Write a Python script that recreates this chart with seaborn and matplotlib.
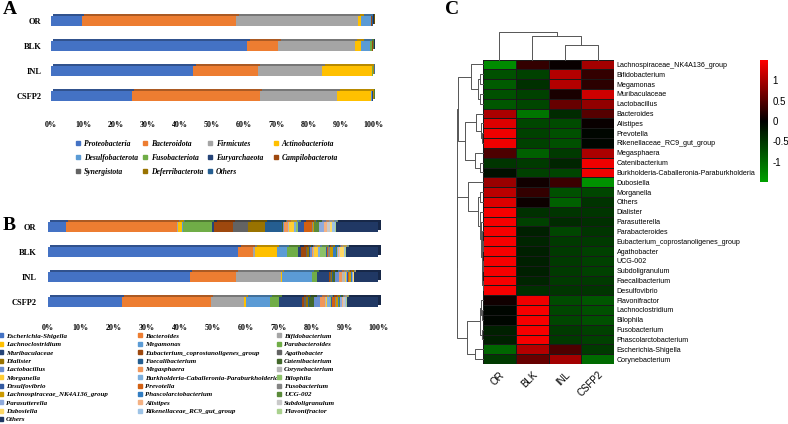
import numpy as np
import pandas as pd
import matplotlib
matplotlib.use("Agg")
import matplotlib.pyplot as plt
import matplotlib.colors as mcolors
import matplotlib.transforms as mtransforms
from matplotlib.lines import Line2D
from matplotlib.patches import Rectangle
import seaborn as sns

# ---------------- data ----------------
groups = ["OR", "BLK", "INL", "CSFP2"]

# A: phylum level relative abundance (%)
phyla = ["Proteobacteria", "Bacteroidota", "Firmicutes", "Actinobacteriota",
         "Desulfobacterota", "Fusobacteriota", "Euryarchaeota", "Campilobacterota",
         "Synergistota", "Deferribacterota", "Others"]
phyla_colors = ["#4472C4", "#ED7D31", "#A5A5A5", "#FFC000", "#5B9BD5", "#70AD47",
                "#264478", "#9E480E", "#636363", "#997300", "#255E91"]
phy_OR = [9.5, 48.1, 37.7, 1.1, 2.9, 0.1, 0.1, 0.1, 0.1, 0.1, 0.2]
phy_BLK = [61.0, 9.6, 23.8, 2.0, 2.6, 0.7, 0.1, 0.05, 0.05, 0.05, 0.05]
phy_INL = [44.2, 20.1, 20.0, 15.4, 0.1, 0.05, 0.05, 0.02, 0.02, 0.02, 0.04]
phy_CSFP2 = [25.1, 39.7, 24.1, 10.6, 0.2, 0.1, 0.05, 0.05, 0.03, 0.02, 0.05]

# B: genus level relative abundance (%)
genera = ["Escherichia-Shigella", "Bacteroides", "Bifidobacterium", "Lachnoclostridium",
          "Megamonas", "Parabacteroides", "Muribaculaceae",
          "Eubacterium_coprostanoligenes_group", "Agathobacter", "Dialister",
          "Faecalibacterium", "Catenibacterium", "Lactobacillus", "Megasphaera",
          "Corynebacterium", "Morganella", "Burkholderia-Caballeronia-Paraburkholderia",
          "Bilophila", "Desulfovibrio", "Prevotella", "Fusobacterium",
          "Lachnospiraceae_NK4A136_group", "Phascolarctobacterium", "UCG-002",
          "Parasutterella", "Alistipes", "Subdoligranulum", "Dubosiella",
          "Rikenellaceae_RC9_gut_group", "Flavonifractor", "Others"]
genera_colors = ["#4472C4", "#ED7D31", "#A5A5A5", "#FFC000", "#5B9BD5", "#70AD47",
                 "#264478", "#9E480E", "#636363", "#997300", "#255E91", "#43682B",
                 "#698ED0", "#F1975A", "#B7B7B7", "#FFCD33", "#7CAFDD", "#8CC168",
                 "#335AA1", "#D26012", "#848484", "#CC9A00", "#327DC2", "#5A8A39",
                 "#8FAADC", "#F4B183", "#C9C9C9", "#FFD966", "#9DC3E6", "#A9D18E",
                 "#203864"]
gen_OR = [5.5, 33.5, 0.3, 1.2, 0.3, 8.9, 0.7, 5.5, 4.8, 5.0, 5.3, 0.3, 0.3, 1.2, 0.2,
          1.6, 0.6, 0.6, 1.7, 2.3, 0.4, 0.2, 0.3, 1.5, 1.3, 1.0, 1.0, 0.4, 1.0, 0.2, 12.9]
gen_BLK = [57.7, 4.3, 0.7, 6.7, 3.0, 3.3, 1.0, 1.3, 0.5, 0.4, 0.3, 0.2, 0.5, 0.4, 0.4,
           1.0, 0.6, 2.0, 0.3, 0.3, 0.6, 0.8, 1.0, 0.3, 0.3, 0.3, 0.3, 1.2, 0.3, 0.3, 9.7]
gen_INL = [43.0, 14.0, 13.6, 0.3, 8.9, 1.6, 3.6, 0.3, 0.3, 0.5, 0.3, 0.6, 1.2, 0.8, 0.9,
           0.2, 0.3, 0.2, 0.2, 0.2, 0.2, 0.6, 0.2, 0.1, 0.1, 0.1, 0.1, 0.1, 0.1, 0.1, 7.3]
gen_CSFP2 = [22.4, 26.9, 10.2, 0.5, 7.1, 3.0, 6.8, 0.6, 0.6, 0.5, 0.3, 1.8, 1.6, 1.6, 0.3,
             0.3, 0.8, 0.3, 0.3, 1.0, 0.3, 0.6, 0.2, 0.5, 0.5, 0.3, 0.5, 0.2, 0.2, 0.2, 9.6]

# C: row-scaled abundance (z-score), rows in clustered order
heat_taxa = ["Lachnospiraceae_NK4A136_group", "Bifidobacterium", "Megamonas",
             "Muribaculaceae", "Lactobacillus", "Bacteroides", "Alistipes", "Prevotella",
             "Rikenellaceae_RC9_gut_group", "Megasphaera", "Catenibacterium",
             "Burkholderia-Caballeronia-Paraburkholderia", "Dubosiella", "Morganella",
             "Others", "Dialister", "Parasutterella", "Parabacteroides",
             "Eubacterium_coprostanoligenes_group", "Agathobacter", "UCG-002",
             "Subdoligranulum", "Faecalibacterium", "Desulfovibrio", "Flavonifractor",
             "Lachnoclostridium", "Bilophila", "Fusobacterium", "Phascolarctobacterium",
             "Escherichia-Shigella", "Corynebacterium"]
z_OR = [-1.3, -0.75, -0.85, -0.75, -0.8, 1.0, 1.3, 1.4, 1.4, 0.45, -0.5, -0.15, 0.9, 1.1,
        1.3, 1.45, 1.45, 1.45, 1.45, 1.45, 1.45, 1.45, 1.45, 1.45, 0.1, -0.05, -0.05,
        -0.3, -0.3, -0.95, -0.55]
z_BLK = [0.3, -0.6, -0.45, -0.6, -0.65, -1.1, -0.65, -0.6, -0.6, -0.9, -0.55, -0.6, 0.1,
         0.3, 0.08, -0.45, -0.6, -0.3, -0.35, -0.3, -0.3, -0.3, -0.35, -0.45, 1.4, 1.45,
         1.45, 1.45, 1.45, 1.05, 0.6]
z_INL = [0.05, 1.05, 1.05, 0.15, 0.6, -0.4, -0.7, -0.75, -0.75, -0.55, -0.35, -0.65, 0.35,
         -0.75, -0.9, -0.5, -0.4, -0.65, -0.55, -0.55, -0.55, -0.55, -0.55, -0.5, -0.7,
         -0.65, -0.65, -0.55, -0.55, 0.45, 0.95]
z_CSFP2 = [0.95, 0.3, 0.25, 1.2, 0.85, 0.5, 0.05, -0.05, -0.05, 1.0, 1.4, 1.4, -1.35,
           -0.65, -0.48, -0.5, -0.45, -0.5, -0.55, -0.6, -0.6, -0.6, -0.55, -0.5, -0.8,
           -0.75, -0.75, -0.6, -0.6, -0.55, -1.0]

# dendrograms: (left, right, height), leaves are row / column indices
col_tree = (0, (1, (2, 3, 14.5), 22.8), 27.2)
row_tree = (
    ((0, ((1, 2, 2.5), (3, 4, 2.5), 5.0), 12.0),
     ((5, (6, (7, 8, 1.0), 2.0), 6.5), (9, (10, 11, 3.0), 8.0), 18.0), 24.7),
    ((12, ((13, 14, 2.5),
           (15, (16, ((17, (18, 19, 0.4), 0.8), ((20, 21, 0.3), (22, 23, 0.4), 0.8), 1.2),
                 1.8), 3.0), 5.0), 14.7),
     (((24, (25, 26, 0.8), 1.6), (27, 28, 1.0), 3.0), (29, 30, 8.0), 16.3), 25.7),
    26.3)

# ---------------- figure ----------------
W, H = 788, 424
fig = plt.figure(figsize=(W / 100, H / 100), dpi=100)
plt.rcParams["font.family"] = ["Liberation Sans", "DejaVu Sans"]
serif = "Liberation Serif"


def px_axes(x0, y0, x1, y1):
    return fig.add_axes([x0 / W, 1 - y1 / H, (x1 - x0) / W, (y1 - y0) / H])


def darker(c, f=0.72):
    r, g, b = mcolors.to_rgb(c)
    return (r * f, g * f, b * f)


def stacked_panel(ax, names, colors, values, dx, dy, tick_shift):
    table = pd.DataFrame(values, index=groups, columns=names)
    cum = table.cumsum(axis=1)
    for name, col in reversed(list(zip(names, colors))):
        d = pd.DataFrame({"group": groups, "end": cum[name].values})
        sns.barplot(data=d, x="end", y="group", color=col, saturation=1, width=0.4,
                    orient="h", errorbar=None, linewidth=0, ax=ax, zorder=2)
    # pseudo-3D top face / end cap
    for p in list(ax.patches):
        ax.add_patch(Rectangle((p.get_x() + dx, p.get_y() - dy), p.get_width(),
                               p.get_height(), facecolor=darker(p.get_facecolor()),
                               linewidth=0, zorder=1, clip_on=False))
    ax.set_xlim(0, 100)
    ax.set_xticks(range(0, 101, 10))
    ax.set_xticklabels([f"{t}%" for t in range(0, 101, 10)])
    ax.set_xlabel("")
    ax.set_ylabel("")
    sns.despine(ax=ax, left=True, bottom=True)
    for lab in ax.get_xticklabels() + ax.get_yticklabels():
        lab.set_fontfamily(serif)
        lab.set_fontweight("bold")
    shift = mtransforms.ScaledTranslation(tick_shift / 100, 0, fig.dpi_scale_trans)
    for lab in ax.get_xticklabels():
        lab.set_transform(lab.get_transform() + shift)


def column_legends(labels, colors, ncol, xs, y_top, fs, spacing, ms):
    for j in range(ncol):
        idx = list(range(j, len(labels), ncol))
        handles = [Line2D([], [], marker="s", ls="", color=colors[i], markersize=ms)
                   for i in idx]
        fig.legend(handles, [labels[i] for i in idx], loc="upper left",
                   bbox_to_anchor=(xs[j] / W, 1 - y_top / H), frameon=False,
                   prop={"family": serif, "weight": "bold", "style": "italic", "size": fs},
                   handlelength=0.6, handletextpad=0.4, labelspacing=spacing,
                   borderpad=0, borderaxespad=0)


# ---- A ----
axA = px_axes(51, 8.5, 373, 108.8)
stacked_panel(axA, phyla, phyla_colors, [phy_OR, phy_BLK, phy_INL, phy_CSFP2],
              dx=0.7, dy=0.085, tick_shift=-3)
axA.tick_params(axis="x", length=0, pad=9, labelsize=5.8)
axA.tick_params(axis="y", length=0, pad=7, labelsize=6)
column_legends(phyla, phyla_colors, 4, [76, 143, 208, 274], 140, 5.5, 0.78, 2.4)
fig.text(3 / W, 1 - 9 / H, "A", fontfamily=serif, fontweight="bold", fontsize=14,
         va="center", ha="left")

# ---- B ----
axB = px_axes(47.7, 214.8, 378.3, 314.2)
stacked_panel(axB, genera, genera_colors, [gen_OR, gen_BLK, gen_INL, gen_CSFP2],
              dx=0.7, dy=0.085, tick_shift=-4)
axB.tick_params(axis="x", length=0, pad=7, labelsize=5.8)
axB.tick_params(axis="y", length=0, pad=8, labelsize=6)
column_legends(genera, genera_colors, 3, [-1, 138, 277], 333, 5, 0.36, 2.2)
fig.text(3 / W, 1 - 225.5 / H, "B", fontfamily=serif, fontweight="bold", fontsize=14,
         va="center", ha="left")

# ---- C ----
heat = pd.DataFrame({"OR": z_OR, "BLK": z_BLK, "INL": z_INL, "CSFP2": z_CSFP2},
                    index=heat_taxa)
cmap = mcolors.LinearSegmentedColormap.from_list("gkr", ["#00A000", "#000000", "#FF0000"])
axH = px_axes(483, 59.5, 614, 364)
axCb = px_axes(760, 60, 768, 182)
sns.heatmap(heat, ax=axH, cmap=cmap, vmin=-1.5, vmax=1.5, cbar_ax=axCb,
            linewidths=0.4, linecolor="#1a1a1a", xticklabels=True, yticklabels=True)
axH.yaxis.tick_right()
axH.tick_params(axis="y", length=0, pad=2, labelsize=5.1, labelright=True,
                labelleft=False, labelrotation=0)
axH.set_xticklabels(groups, rotation=45, ha="right", rotation_mode="anchor", fontsize=7)
axH.tick_params(axis="x", length=0, pad=4)
cb = axH.collections[0].colorbar
cb.outline.set_visible(False)
cb.set_ticks([-1, -0.5, 0, 0.5, 1])
cb.set_ticklabels(["-1", "-0.5", "0", "0.5", "1"])
axCb.tick_params(length=0, pad=3, labelsize=7)


def draw_tree(ax, node, vertical):
    if isinstance(node, int):
        return node + 0.5, 0.0
    left, right, h = node
    p1, h1 = draw_tree(ax, left, vertical)
    p2, h2 = draw_tree(ax, right, vertical)
    hs, ps = [h1, h, h, h2], [p1, p1, p2, p2]
    if vertical:
        ax.plot(ps, hs, color="#555555", lw=0.7, clip_on=False)
    else:
        ax.plot(hs, ps, color="#555555", lw=0.7, clip_on=False)
    return (p1 + p2) / 2, h


axCol = px_axes(483, 32, 614, 59.5)
draw_tree(axCol, col_tree, True)
axCol.set_xlim(0, len(groups))
axCol.set_ylim(0, col_tree[2])
axCol.axis("off")

axRow = px_axes(456.5, 59.5, 483, 364)
draw_tree(axRow, row_tree, False)
axRow.set_ylim(len(heat_taxa), 0)
axRow.set_xlim(row_tree[2], 0)
axRow.axis("off")

fig.text(445 / W, 1 - 9 / H, "C", fontfamily=serif, fontweight="bold", fontsize=14,
         va="center", ha="left")

fig.savefig("out.png", dpi=100)
